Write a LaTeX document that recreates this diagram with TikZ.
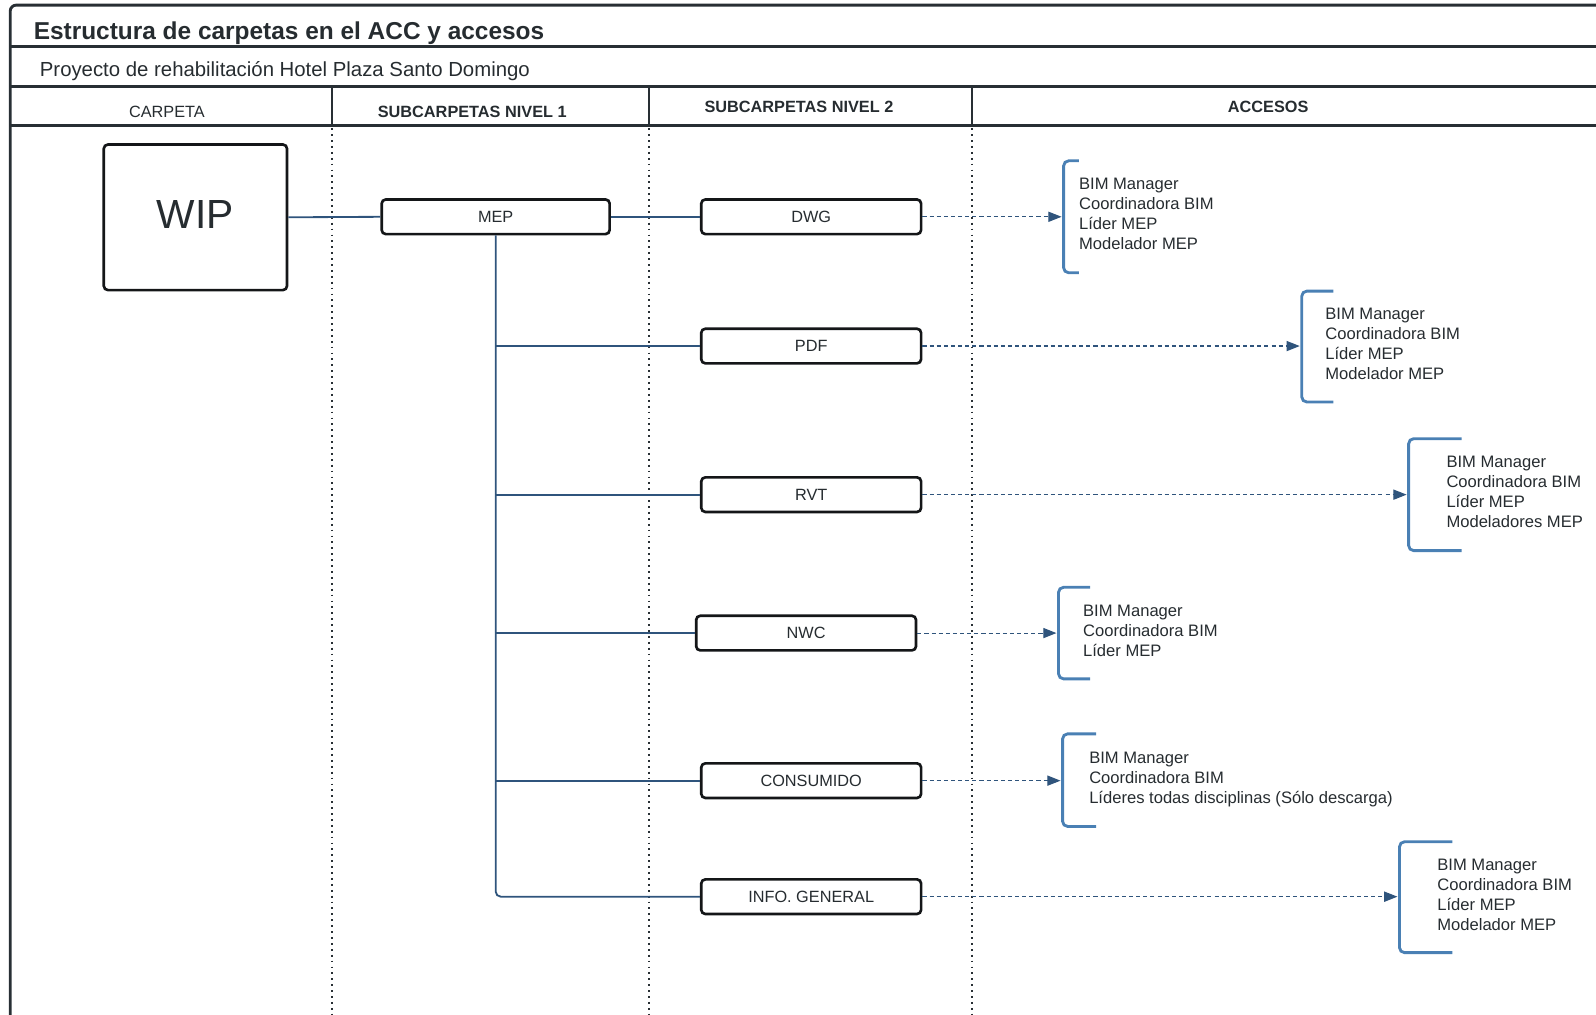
\documentclass[tikz,border=0pt]{standalone}
\usepackage{fontspec}
\setmainfont{Liberation Sans}
\usetikzlibrary{arrows.meta}
\definecolor{framec}{RGB}{40,47,52}
\definecolor{boxc}{RGB}{20,22,24}
\definecolor{textc}{RGB}{38,44,48}
\definecolor{connc}{RGB}{47,84,124}
\definecolor{brkc}{RGB}{74,128,180}
\tikzset{
  frameline/.style={draw=framec, line width=2.8pt},
  coldiv/.style={draw=framec, line width=1.8pt, dash pattern=on 1.8pt off 4pt},
  folder/.style={draw=boxc, line width=2.6pt, rounded corners=4pt, minimum width=216pt,
    minimum height=34pt, inner sep=0pt, font=\fontsize{16}{19}\selectfont, text=textc, fill=white},
  conn/.style={draw=connc, line width=1.8pt},
  acc/.style={draw=connc, line width=1.1pt, dash pattern=on 4pt off 3pt,
    -{Triangle[length=13pt,width=10pt]}},
  brk/.style={draw=brkc, line width=2.8pt, rounded corners=5pt},
  acctext/.style={anchor=west, align=left, inner sep=0pt, text=textc,
    font=\fontsize{16.3}{19.7}\selectfont},
  hdr/.style={anchor=base, inner sep=0pt, text=textc, font=\fontsize{16}{19}\selectfont},
  hdrb/.style={hdr, font=\fontsize{16}{19}\selectfont\bfseries}
}
\begin{document}
\begin{tikzpicture}[x=1pt,y=-1pt]
\useasboundingbox (0,0) rectangle (1568.1,996.3);
% frame
\draw[frameline, rounded corners=6pt] (10,1005) -- (10,5) -- (1580,5);
\draw[frameline] (10,46) -- (1580,46);
\draw[frameline] (10,85) -- (1580,85);
\draw[frameline] (10,123) -- (1580,123);
\foreach \xx in {326,638,955}{
  \draw[draw=framec, line width=1.8pt] (\xx,85) -- (\xx,123);
  \draw[coldiv] (\xx,126) -- (\xx,1000);
}
% titles
\node[anchor=base west, inner sep=0pt, text=textc, font=\fontsize{24}{28}\selectfont\bfseries] (title) at (33,39) {Estructura de carpetas en el ACC y accesos};
\node[anchor=base west, inner sep=0pt, text=textc, font=\fontsize{20}{24}\selectfont] (subtitle) at (39,75) {Proyecto de rehabilitación Hotel Plaza Santo Domingo};
\node[hdr] (h1) at (164,115) {CARPETA};
\node[hdrb] (h2) at (464,115) {SUBCARPETAS NIVEL 1};
\node[hdrb] (h3) at (785,111) {SUBCARPETAS NIVEL 2};
\node[hdrb] (h4) at (1246,111) {ACCESOS};
% folders
\node[folder, minimum width=180pt, minimum height=143pt, font=\fontsize{40}{46}\selectfont] (wip) at (192,213.5) {\raisebox{5pt}{WIP}};
\node[folder, minimum width=224pt] (mep) at (487,213) {MEP};
\node[folder] (dwg) at (797,213) {DWG};
\node[folder] (pdf) at (797,340) {PDF};
\node[folder] (rvt) at (797,486) {RVT};
\node[folder] (nwc) at (792,622) {NWC};
\node[folder] (cons) at (797,767) {CONSUMIDO};
\node[folder] (info) at (797,881) {INFO. GENERAL};
% tree connectors
\draw[conn] (wip.east) -- (mep.west);
\draw[conn] (mep.east) -- (dwg.west);
\draw[conn, rounded corners=5pt] (mep.south) |- (info.west);
\draw[conn] (mep.south |- pdf.west) -- (pdf.west);
\draw[conn] (mep.south |- rvt.west) -- (rvt.west);
\draw[conn] (mep.south |- nwc.west) -- (nwc.west);
\draw[conn] (mep.south |- cons.west) -- (cons.west);
% brackets
\draw[brk] (1060,158) -- (1045,158) -- (1045,268) -- (1060,268);
\draw[brk] (1310,286) -- (1279,286) -- (1279,395) -- (1310,395);
\draw[brk] (1436,431) -- (1384,431) -- (1384,541) -- (1436,541);
\draw[brk] (1071,577) -- (1040,577) -- (1040,667) -- (1071,667);
\draw[brk] (1077,721) -- (1044,721) -- (1044,812) -- (1077,812);
\draw[brk] (1427,827) -- (1375,827) -- (1375,936) -- (1427,936);
\coordinate (b1) at (1043,213);
\coordinate (b2) at (1277,340);
\coordinate (b3) at (1382,486);
\coordinate (b4) at (1038,622);
\coordinate (b5) at (1042,767);
\coordinate (b6) at (1373,881);
% access texts
\node[acctext] (a1) at (1060,210.5) {BIM Manager\\Coordinadora BIM\\Líder MEP\\Modelador MEP};
\node[acctext] (a2) at (1302,338) {BIM Manager\\Coordinadora BIM\\Líder MEP\\Modelador MEP};
\node[acctext] (a3) at (1421,483.5) {BIM Manager\\Coordinadora BIM\\Líder MEP\\Modeladores MEP};
\node[acctext] (a4) at (1064,620) {BIM Manager\\Coordinadora BIM\\Líder MEP};
\node[acctext] (a5) at (1070,766) {BIM Manager\\Coordinadora BIM\\Líderes todas disciplinas (Sólo descarga)};
\node[acctext] (a6) at (1412,879) {BIM Manager\\Coordinadora BIM\\Líder MEP\\Modelador MEP};
% access arrows
\draw[acc] (dwg.east) -- (b1);
\draw[acc] (pdf.east) -- (b2);
\draw[acc] (rvt.east) -- (b3);
\draw[acc] (nwc.east) -- (b4);
\draw[acc] (cons.east) -- (b5);
\draw[acc] (info.east) -- (b6);
\end{tikzpicture}
\end{document}
